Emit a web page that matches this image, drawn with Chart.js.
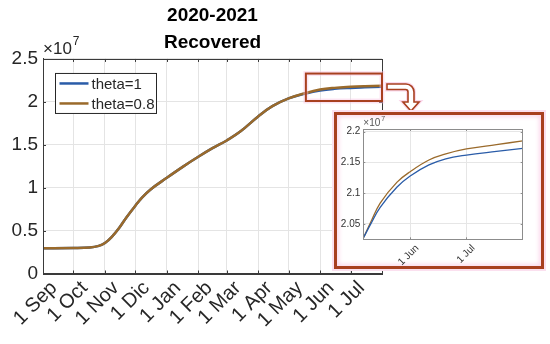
<!DOCTYPE html>
<html lang="en">
<head>
    <meta charset="UTF-8">
    <title>2020-2021 Recovered</title>
    <script src="https://cdn.jsdelivr.net/npm/chart.js"></script>
    <style>
        body {
            margin: 0;
            background: #fff;
            font-family: "Liberation Sans", Arial, sans-serif;
        }

        #wrap {
            position: relative;
            width: 550px;
            height: 344px;
        }

        #inset {
            position: absolute;
            left: 334px;
            top: 112px;
            width: 210px;
            height: 157px;
            box-sizing: border-box;
            border: 3px solid #a8401f;
            background: #fff;
            box-shadow: 0 0 0 2px #fbe0ef, inset 0 0 4px 2px #fbd9ec;
        }

        #inset canvas {
            display: block;
        }
    </style>
</head>
<body>
<div id="wrap">
    <canvas id="mainChart" width="550" height="344"></canvas>
    <div id="inset">
        <canvas id="insetChart" width="204" height="151"></canvas>
    </div>
</div>

<script>
    // days counted from 1 Sep 2020, values in units of 10^7
    const monthDays = [0, 30, 61, 91, 122, 153, 181, 212, 242, 273, 303];
    const monthLabels = ['1 Sep', '1 Oct', '1 Nov', '1 Dic', '1 Jan', '1 Feb', '1 Mar', '1 Apr', '1 May', '1 Jun', '1 Jul'];
    const yTicks = [0, 0.5, 1, 1.5, 2, 2.5];

    const seriesNames = ['theta=1', 'theta=0.8'];
    const seriesColors = ['#2a5ca8', '#9a6a2b'];

    const mainDays = [0, 30, 46, 55, 61, 68, 75, 82, 91, 98, 106, 122, 138, 153, 167, 181, 195, 212, 226, 242, 258, 273, 287, 303, 317, 334];
    const recTheta1 = [0.295, 0.297, 0.303, 0.322, 0.355, 0.43, 0.53, 0.65, 0.79, 0.89, 0.98, 1.115, 1.245, 1.36, 1.46, 1.55, 1.66, 1.83, 1.95, 2.04,
        2.095, 2.133, 2.152, 2.163, 2.169, 2.175];
    const recTheta08 = [0.295, 0.297, 0.303, 0.322, 0.355, 0.43, 0.53, 0.65, 0.79, 0.89, 0.98, 1.115, 1.245, 1.36, 1.46, 1.55, 1.66, 1.83, 1.95, 2.04,
        2.10, 2.143, 2.163, 2.175, 2.182, 2.188];

    // zoomed window
    const insetDays = [248, 252, 257, 266, 273, 283, 292, 303, 319, 333];
    const insetTheta1 = [2.027, 2.050, 2.077, 2.110, 2.128, 2.146, 2.156, 2.162, 2.168, 2.173];
    const insetTheta08 = [2.027, 2.053, 2.084, 2.118, 2.135, 2.154, 2.164, 2.172, 2.179, 2.185];
    const insetTickDays = [273, 303];
    const insetTickLabels = ['1 Jun', '1 Jul'];
    const insetYTicks = [2.05, 2.1, 2.15, 2.2];

    // highlighted box on the main axes (days, 10^7)
    const zoomBox = { x0: 259, x1: 334, y0: 2.01, y1: 2.33 };

    Chart.defaults.font.family = '"Liberation Sans", Arial, sans-serif';
    Chart.defaults.color = '#262626';

    function toPoints(xs, ys) {
        return xs.map((x, i) => ({ x: x, y: ys[i] }));
    }

    // frame, inward ticks, exponent label
    const axesFrame = {
        id: 'axesFrame',
        afterDraw(chart, args, opts) {
            const ctx = chart.ctx;
            const a = chart.chartArea;
            const xs = chart.scales.x, ys = chart.scales.y;
            const tl = opts.tick || 4;
            ctx.save();
            ctx.strokeStyle = opts.color;
            ctx.lineWidth = 1;
            ctx.strokeRect(Math.round(a.left) + 0.5, Math.round(a.top) + 0.5, Math.round(a.right - a.left), Math.round(a.bottom - a.top));
            ctx.beginPath();
            xs.ticks.forEach(t => {
                const px = Math.round(xs.getPixelForValue(t.value)) + 0.5;
                ctx.moveTo(px, a.bottom); ctx.lineTo(px, a.bottom - tl);
                ctx.moveTo(px, a.top); ctx.lineTo(px, a.top + tl);
            });
            ys.ticks.forEach(t => {
                const py = Math.round(ys.getPixelForValue(t.value)) + 0.5;
                ctx.moveTo(a.left, py); ctx.lineTo(a.left + tl, py);
                ctx.moveTo(a.right, py); ctx.lineTo(a.right - tl, py);
            });
            ctx.stroke();

            ctx.fillStyle = opts.textColor;
            ctx.textBaseline = 'alphabetic';
            ctx.textAlign = 'left';
            ctx.font = opts.expSize + 'px "Liberation Sans", Arial, sans-serif';
            const base = '\u00d710';
            ctx.fillText(base, a.left + opts.expDx, a.top - opts.expDy);
            const w = ctx.measureText(base).width;
            ctx.font = Math.round(opts.expSize * 0.72) + 'px "Liberation Sans", Arial, sans-serif';
            ctx.fillText('7', a.left + opts.expDx + w + 1, a.top - opts.expDy - opts.expSize * 0.5);
            ctx.restore();
        }
    };

    // legend box, zoom box and arrow on the main axes
    const mainDecor = {
        id: 'mainDecor',
        afterDraw(chart) {
            const ctx = chart.ctx;
            const a = chart.chartArea;
            const xs = chart.scales.x, ys = chart.scales.y;
            ctx.save();

            // legend
            const lx = a.left + 12.5, ly = a.top + 14.5, lw = 101, lh = 40;
            ctx.fillStyle = '#fff';
            ctx.fillRect(lx, ly, lw, lh);
            ctx.strokeStyle = '#262626';
            ctx.lineWidth = 1;
            ctx.strokeRect(lx, ly, lw, lh);
            ctx.font = '15px "Liberation Sans", Arial, sans-serif';
            ctx.textBaseline = 'middle';
            ctx.textAlign = 'left';
            chart.data.datasets.forEach((ds, i) => {
                const yy = ly + 10 + i * 20;
                ctx.strokeStyle = ds.borderColor;
                ctx.lineWidth = 2.5;
                ctx.beginPath();
                ctx.moveTo(lx + 4, yy);
                ctx.lineTo(lx + 33, yy);
                ctx.stroke();
                ctx.fillStyle = '#262626';
                ctx.fillText(ds.label, lx + 36, yy + 1);
            });

            // zoom box
            const bx0 = xs.getPixelForValue(zoomBox.x0), bx1 = xs.getPixelForValue(zoomBox.x1);
            const by0 = ys.getPixelForValue(zoomBox.y1), by1 = ys.getPixelForValue(zoomBox.y0);
            ctx.strokeStyle = 'rgba(248, 196, 226, 0.45)';
            ctx.lineWidth = 5;
            ctx.strokeRect(bx0, by0, bx1 - bx0, by1 - by0);
            ctx.strokeStyle = '#a8401f';
            ctx.lineWidth = 2;
            ctx.strokeRect(bx0, by0, bx1 - bx0, by1 - by0);

            // bent arrow towards the inset
            const sx = bx1 + 5, top = by0 + 10.5, bot = top + 5.5;
            const cx = sx + 27;
            ctx.beginPath();
            ctx.moveTo(sx, top);
            ctx.lineTo(cx - 8, top);
            ctx.arcTo(cx, top, cx, top + 8, 8);
            ctx.lineTo(cx, top + 18);
            ctx.lineTo(cx + 5, top + 18);
            ctx.lineTo(cx - 3, top + 27);
            ctx.lineTo(cx - 11, top + 18);
            ctx.lineTo(cx - 6, top + 18);
            ctx.lineTo(cx - 6, bot + 2.5);
            ctx.arcTo(cx - 6, bot, cx - 8.5, bot, 2.5);
            ctx.lineTo(sx, bot);
            ctx.closePath();
            ctx.strokeStyle = '#fbd9ec';
            ctx.lineWidth = 4;
            ctx.stroke();
            ctx.fillStyle = '#fff';
            ctx.fill();
            ctx.strokeStyle = '#a8401f';
            ctx.lineWidth = 1.6;
            ctx.stroke();
            ctx.restore();
        }
    };

    new Chart(document.getElementById('mainChart'), {
        type: 'line',
        data: {
            datasets: [{
                label: seriesNames[0],
                data: toPoints(mainDays, recTheta1),
                borderColor: seriesColors[0],
                borderWidth: 2.5,
                order: 1
            }, {
                label: seriesNames[1],
                data: toPoints(mainDays, recTheta08),
                borderColor: seriesColors[1],
                borderWidth: 2.5,
                order: 0
            }]
        },
        options: {
            responsive: false,
            animation: false,
            devicePixelRatio: 1,
            parsing: false,
            elements: {
                point: { radius: 0 },
                line: { tension: 0.4, fill: false }
            },
            layout: { padding: { left: 0, right: 168, top: 0, bottom: 0 } },
            plugins: {
                legend: { display: false },
                tooltip: { enabled: false },
                title: {
                    display: true,
                    fullSize: false,
                    text: ['2020-2021', 'Recovered'],
                    color: '#000',
                    font: { size: 19, weight: 'bold', lineHeight: 1.42 },
                    padding: { top: 2, bottom: 3 }
                },
                axesFrame: { color: '#3a3a3a', textColor: '#262626', tick: 3, expSize: 17, expDx: 0, expDy: 5 }
            },
            scales: {
                x: {
                    type: 'linear',
                    min: 0,
                    max: 334,
                    afterBuildTicks: s => { s.ticks = monthDays.map(v => ({ value: v })); },
                    afterFit: s => { s.height = 70.5; },
                    grid: { color: '#e4e4e4', drawTicks: false },
                    border: { display: true, color: '#3a3a3a' },
                    ticks: {
                        autoSkip: false,
                        minRotation: 45,
                        maxRotation: 45,
                        padding: 3,
                        labelOffset: 11,
                        font: { size: 20 },
                        callback: (v, i) => monthLabels[i]
                    }
                },
                y: {
                    min: 0,
                    max: 2.5,
                    afterBuildTicks: s => { s.ticks = yTicks.map(v => ({ value: v })); },
                    afterFit: s => { s.width = 43; },
                    grid: { color: '#e4e4e4', drawTicks: false },
                    border: { display: true, color: '#3a3a3a' },
                    ticks: {
                        padding: 5,
                        font: { size: 19 },
                        callback: v => String(v)
                    }
                }
            }
        },
        plugins: [axesFrame, mainDecor]
    });

    new Chart(document.getElementById('insetChart'), {
        type: 'line',
        data: {
            datasets: [{
                label: seriesNames[0],
                data: toPoints(insetDays, insetTheta1),
                borderColor: seriesColors[0],
                borderWidth: 1.3
            }, {
                label: seriesNames[1],
                data: toPoints(insetDays, insetTheta08),
                borderColor: seriesColors[1],
                borderWidth: 1.3
            }]
        },
        options: {
            responsive: false,
            animation: false,
            devicePixelRatio: 1,
            parsing: false,
            elements: {
                point: { radius: 0 },
                line: { tension: 0.4, fill: false }
            },
            layout: { padding: { left: 0, right: 18.3, top: 14, bottom: 0 } },
            plugins: {
                legend: { display: false },
                tooltip: { enabled: false },
                axesFrame: { color: '#8c8c8c', textColor: '#555', tick: 2, expSize: 10, expDx: 0, expDy: 3 }
            },
            scales: {
                x: {
                    type: 'linear',
                    min: 248,
                    max: 333,
                    afterBuildTicks: s => { s.ticks = insetTickDays.map(v => ({ value: v })); },
                    afterFit: s => { s.height = 26.7; },
                    grid: { color: '#e6e6e6', drawTicks: false },
                    border: { display: true, color: '#8c8c8c' },
                    ticks: {
                        autoSkip: false,
                        minRotation: 45,
                        maxRotation: 45,
                        padding: 3,
                        labelOffset: 7,
                        color: '#333',
                        font: { size: 10 },
                        callback: (v, i) => insetTickLabels[i]
                    }
                },
                y: {
                    min: 2.025,
                    max: 2.2044,
                    afterBuildTicks: s => { s.ticks = insetYTicks.map(v => ({ value: v })); },
                    afterFit: s => { s.width = 26.3; },
                    grid: { color: '#e6e6e6', drawTicks: false },
                    border: { display: true, color: '#8c8c8c' },
                    ticks: {
                        padding: 3,
                        color: '#333',
                        font: { size: 10 },
                        callback: v => String(+v.toFixed(2))
                    }
                }
            }
        },
        plugins: [axesFrame]
    });
</script>
</body>
</html>
